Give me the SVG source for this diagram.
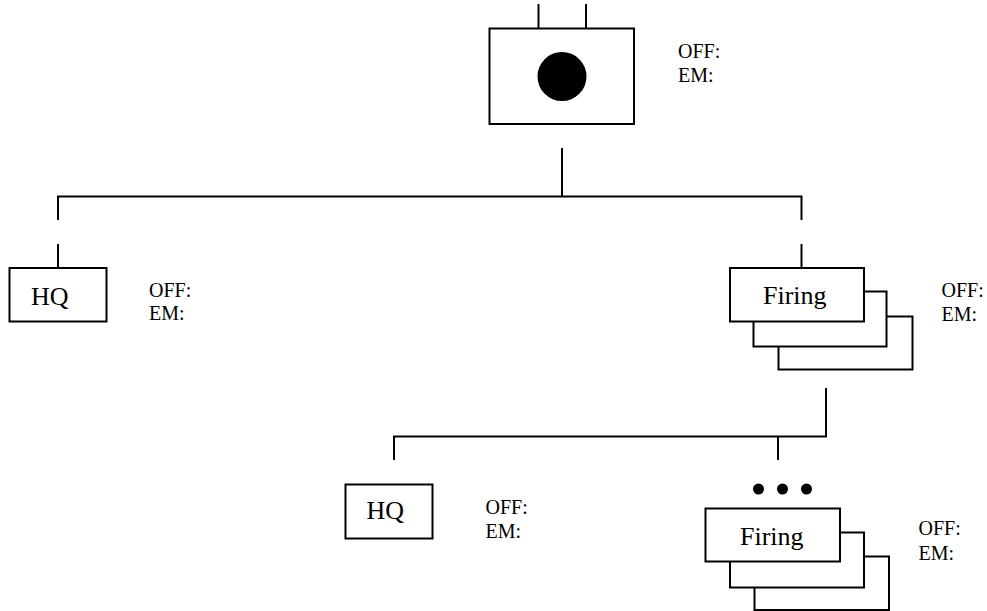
<svg xmlns="http://www.w3.org/2000/svg" width="987" height="611" viewBox="0 0 987 611">
<style>
.ln{stroke:#000;stroke-width:2;fill:none;stroke-linecap:butt}
.bx{stroke:#000;stroke-width:2;fill:#fff}
.lbl{font-family:"Liberation Serif","Times New Roman",serif;font-size:26px;fill:#000}
.st{font-family:"Liberation Serif","Times New Roman",serif;font-size:20px;fill:#000}
</style>
<rect width="987" height="611" fill="#fff"/>
<g id="connectors">
<line class="ln" x1="538.5" y1="4" x2="538.5" y2="29"/>
<line class="ln" x1="586" y1="4" x2="586" y2="29"/>
<line class="ln" x1="562" y1="148" x2="562" y2="196.5"/>
<polyline class="ln" points="58,220 58,196.5 801.5,196.5 801.5,220"/>
<line class="ln" x1="58" y1="244" x2="58" y2="268"/>
<line class="ln" x1="801.5" y1="244" x2="801.5" y2="268"/>
<polyline class="ln" points="394,460 394,436.5 826,436.5 826,388"/>
<line class="ln" x1="778" y1="436.5" x2="778" y2="460"/>
</g>
<g id="root">
<rect class="bx" x="489.5" y="28.5" width="144.5" height="95.5"/>
<circle cx="562" cy="76.5" r="24.5" fill="#000"/>
<text class="st" x="678" y="58">OFF:</text>
<text class="st" x="678" y="81.5">EM:</text>
</g>
<g id="hq1">
<rect class="bx" x="9.5" y="268" width="97" height="53.5"/>
<text class="lbl" x="31" y="305">HQ</text>
<text class="st" x="149" y="296.5">OFF:</text>
<text class="st" x="149" y="319.5">EM:</text>
</g>
<g id="firing1">
<rect class="bx" x="778.5" y="316.5" width="134" height="53"/>
<rect class="bx" x="753.5" y="291.5" width="133" height="55"/>
<rect class="bx" x="730" y="268" width="134" height="53.5"/>
<text class="lbl" x="763" y="304">Firing</text>
<text class="st" x="941.5" y="296.5">OFF:</text>
<text class="st" x="941.5" y="321">EM:</text>
</g>
<g id="hq2">
<rect class="bx" x="345.5" y="484.5" width="87" height="54"/>
<text class="lbl" x="366.5" y="518.5">HQ</text>
<text class="st" x="485.5" y="513.5">OFF:</text>
<text class="st" x="485.5" y="537.5">EM:</text>
</g>
<g id="dots">
<circle cx="758.5" cy="489" r="5.5" fill="#000"/>
<circle cx="782.5" cy="489" r="5.5" fill="#000"/>
<circle cx="806.5" cy="489" r="5.5" fill="#000"/>
</g>
<g id="firing2">
<rect class="bx" x="754.5" y="556.5" width="134.5" height="53.5"/>
<rect class="bx" x="730" y="532.5" width="134" height="55"/>
<rect class="bx" x="705.5" y="508.5" width="134.5" height="53"/>
<text class="lbl" x="740" y="545">Firing</text>
<text class="st" x="918.5" y="535">OFF:</text>
<text class="st" x="918.5" y="559.5">EM:</text>
</g>
</svg>
